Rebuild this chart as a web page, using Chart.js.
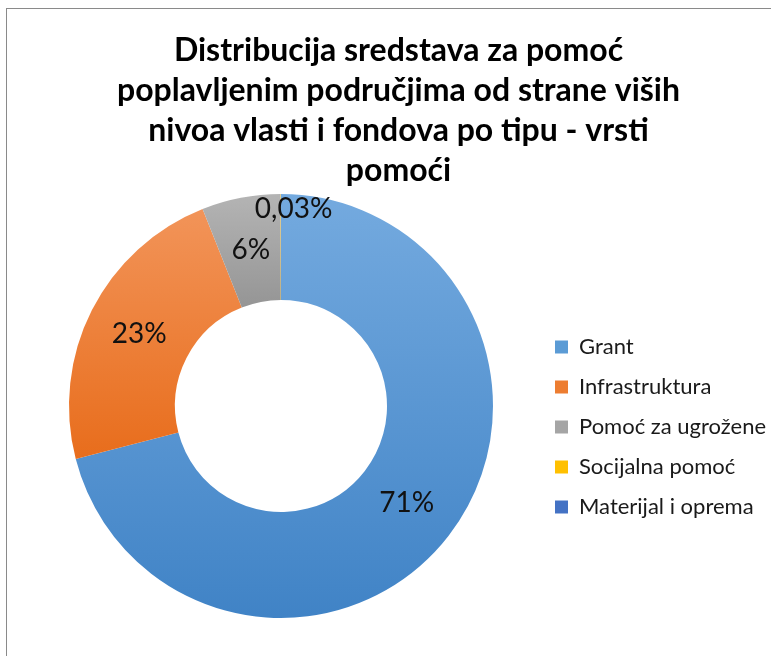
<!DOCTYPE html>
<html>
<head>
<meta charset="utf-8">
<script src="https://cdn.jsdelivr.net/npm/chart.js@4.4.1/dist/chart.umd.min.js"></script>
<style>
  body { margin: 0; background: #fff; }
  #frame { position: absolute; left: 6px; top: 8px; width: 765px; height: 648px; border: 1px solid #8a8a8a; background: #fff; }
</style>
</head>
<body>
<div id="frame"><canvas id="myChart" width="765" height="648"></canvas></div>
<script>
const titleLines = [
  "Distribucija sredstava za pomoć",
  "poplavljenim područjima od strane viših",
  "nivoa vlasti i fondova po tipu - vrsti",
  "pomoći"
];
const categories = ["Grant", "Infrastruktura", "Pomoć za ugrožene", "Socijalna pomoć", "Materijal i oprema"];
const values = [70.97, 23, 6, 0.03, 0];
const legendColors = ["#5b9bd5", "#ed7d31", "#a5a5a5", "#ffc000", "#4472c4"];
const topColors = ["#74aadf", "#f29459", "#b4b4b4", "#ffcb33", "#5a86d0"];
const bottomColors = ["#4083c6", "#e86d1c", "#959595", "#f0b400", "#3a64b0"];
const CUTOUT = 0.5;

// gradient over each slice's own vertical extent, like the office fill
function sliceFill(c) {
  const chart = c.chart;
  const area = chart.chartArea;
  const i = c.dataIndex;
  if (!area) return legendColors[i];
  const total = values.reduce((a, b) => a + b, 0);
  const before = values.slice(0, i).reduce((a, b) => a + b, 0);
  const a0 = -Math.PI / 2 + 2 * Math.PI * before / total;
  const a1 = a0 + 2 * Math.PI * values[i] / total;
  const cy = (area.top + area.bottom) / 2;
  const R = Math.min(area.width, area.height) / 2;
  const r = R * CUTOUT;
  const ys = [];
  for (let k = 0; k <= 60; k++) {
    const a = a0 + (a1 - a0) * k / 60;
    ys.push(cy + R * Math.sin(a), cy + r * Math.sin(a));
  }
  let y0 = Math.min(...ys), y1 = Math.max(...ys);
  if (y1 - y0 < 1) y1 = y0 + 1;
  const g = chart.ctx.createLinearGradient(0, y0, 0, y1);
  g.addColorStop(0, topColors[i]);
  g.addColorStop(1, bottomColors[i]);
  return g;
}

const sliceLabels = {
  id: "sliceLabels",
  afterDatasetsDraw(chart) {
    const ctx = chart.ctx;
    const meta = chart.getDatasetMeta(0);
    const total = values.reduce((a, b) => a + b, 0);
    ctx.save();
    ctx.font = "28px Lato";
    ctx.fillStyle = "#111";
    ctx.textAlign = "center";
    ctx.textBaseline = "middle";
    meta.data.forEach((arc, i) => {
      const v = values[i];
      if (!v) return;
      const share = v / total * 100;
      const p = arc.getProps(["x", "y", "startAngle", "endAngle", "innerRadius", "outerRadius"], true);
      const mid = (p.startAngle + p.endAngle) / 2;
      const r = share < 1 ? p.outerRadius * 0.93 : (p.innerRadius + p.outerRadius) / 2;
      const text = share < 1 ? share.toFixed(2).replace(".", ",") + "%" : Math.round(share) + "%";
      // tiny slices: text starts just left of the slice instead of centring on it
      if (share < 1) {
        ctx.textAlign = "left";
        ctx.fillText(text, p.x + Math.cos(mid) * r - 26, p.y + Math.sin(mid) * r);
        ctx.textAlign = "center";
      } else {
        ctx.fillText(text, p.x + Math.cos(mid) * r, p.y + Math.sin(mid) * r);
      }
    });
    ctx.restore();
  }
};

const ctx = document.getElementById("myChart");
const baseLabels = Chart.overrides.doughnut.plugins.legend.labels.generateLabels;

new Chart(ctx, {
  type: "doughnut",
  data: {
    labels: categories,
    datasets: [
      {
        data: values,
        backgroundColor: sliceFill,
        borderWidth: 0,
      },
    ],
  },
  options: {
    responsive: false,
    animation: false,
    cutout: (CUTOUT * 100) + "%",
    layout: { padding: { left: 18, right: 0, top: 0, bottom: 39 } },
    plugins: {
      tooltip: { enabled: false },
      title: {
        display: true,
        text: titleLines,
        color: "#000",
        font: { family: "Lato", size: 32, weight: "bold", lineHeight: 40 / 32 },
        padding: { top: 22, bottom: 3 },
      },
      legend: {
        position: "right",
        fullSize: false,
        maxWidth: 235,
        title: { display: true, text: " ", font: { size: 10 }, padding: { top: 30, bottom: 0 } },
        labels: {
          boxWidth: 13,
          boxHeight: 13,
          padding: 18,
          color: "#1a1a1a",
          font: { family: "Lato", size: 22 },
          generateLabels(chart) {
            return baseLabels(chart).map((item, i) => {
              item.fillStyle = legendColors[i];
              item.strokeStyle = legendColors[i];
              item.lineWidth = 0;
              item.hidden = false;
              return item;
            });
          },
        },
      },
    },
  },
  plugins: [sliceLabels],
});
</script>
</body>
</html>
